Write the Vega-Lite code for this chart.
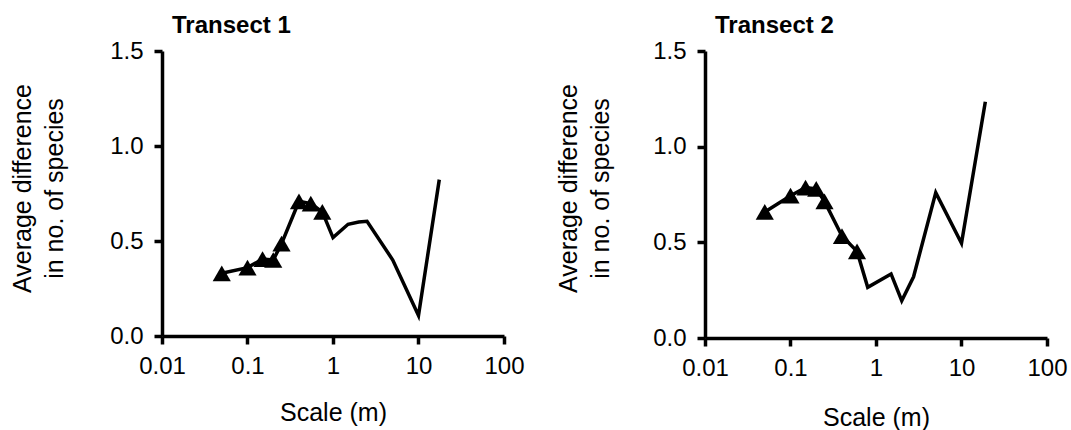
{
  "$schema": "https://vega.github.io/schema/vega-lite/v6.json",
  "background": "white",
  "padding": {"left": 10, "top": 14, "right": 0, "bottom": 0},
  "config": {
    "font": "Liberation Sans",
    "view": {"stroke": null},
    "axis": {
      "domainColor": "black", "domainWidth": 3.5, "tickColor": "black", "tickWidth": 3.5, "tickSize": 8,
      "labelColor": "black", "titleColor": "black", "labelFont": "Liberation Sans", "titleFont": "Liberation Sans",
      "labelFontSize": 24, "titleFontSize": 25, "titleFontWeight": "normal", "grid": false
    },
    "title": {"fontSize": 24, "fontWeight": "bold", "anchor": "start", "frame": "group", "color": "black", "font": "Liberation Sans"}
  },
  "datasets": {
    "t1": [
      {"scale": 0.05, "diff": 0.33, "tri": 1},
      {"scale": 0.1, "diff": 0.36, "tri": 1},
      {"scale": 0.15, "diff": 0.405, "tri": 1},
      {"scale": 0.2, "diff": 0.40, "tri": 1},
      {"scale": 0.25, "diff": 0.486, "tri": 1},
      {"scale": 0.4, "diff": 0.709, "tri": 1},
      {"scale": 0.55, "diff": 0.697, "tri": 1},
      {"scale": 0.75, "diff": 0.653, "tri": 1},
      {"scale": 1, "diff": 0.518, "tri": 0},
      {"scale": 1.5, "diff": 0.588, "tri": 0},
      {"scale": 2, "diff": 0.60, "tri": 0},
      {"scale": 2.5, "diff": 0.604, "tri": 0},
      {"scale": 5, "diff": 0.40, "tri": 0},
      {"scale": 10, "diff": 0.108, "tri": 0},
      {"scale": 17.5, "diff": 0.823, "tri": 0}
    ],
    "t2": [
      {"scale": 0.05, "diff": 0.659, "tri": 1},
      {"scale": 0.1, "diff": 0.744, "tri": 1},
      {"scale": 0.15, "diff": 0.786, "tri": 1},
      {"scale": 0.2, "diff": 0.779, "tri": 1},
      {"scale": 0.25, "diff": 0.714, "tri": 1},
      {"scale": 0.4, "diff": 0.533, "tri": 1},
      {"scale": 0.6, "diff": 0.453, "tri": 1},
      {"scale": 0.8, "diff": 0.265, "tri": 0},
      {"scale": 1.5, "diff": 0.335, "tri": 0},
      {"scale": 2, "diff": 0.195, "tri": 0},
      {"scale": 2.75, "diff": 0.32, "tri": 0},
      {"scale": 5, "diff": 0.76, "tri": 0},
      {"scale": 10, "diff": 0.495, "tri": 0},
      {"scale": 19, "diff": 1.235, "tri": 0}
    ]
  },
  "hconcat": [
    {
      "width": 342, "height": 285,
      "title": {"text": "Transect 1", "dx": 10, "offset": 1},
      "data": {"name": "t1"},
      "encoding": {
        "x": {"field": "scale", "type": "quantitative", "title": "Scale (m)",
          "scale": {"type": "log", "domain": [0.01, 100], "nice": false},
          "axis": {"values": [0.01, 0.1, 1, 10, 100], "format": "~g", "labelPadding": 10, "titlePadding": 22, "labelFlush": false}},
        "y": {"field": "diff", "type": "quantitative", "title": ["Average difference", "in no. of species"],
          "scale": {"domain": [0, 1.5], "nice": false},
          "axis": {"values": [0, 0.5, 1, 1.5], "format": ".1f", "labelPadding": 11, "titleX": -140, "titleY": 137, "titleAlign": "center", "titleBaseline": "middle", "titleLineHeight": 32}}
      },
      "layer": [
        {"mark": {"type": "line", "color": "black", "strokeWidth": 3.5}},
        {"transform": [{"filter": "datum.tri == 1"}],
         "mark": {"type": "point", "shape": "triangle-up", "filled": true, "color": "black", "opacity": 1, "size": 330}}
      ]
    },
    {
      "width": 342, "height": 287,
      "title": {"text": "Transect 2", "dx": 10, "offset": 1},
      "data": {"name": "t2"},
      "encoding": {
        "x": {"field": "scale", "type": "quantitative", "title": "Scale (m)",
          "scale": {"type": "log", "domain": [0.01, 100], "nice": false},
          "axis": {"values": [0.01, 0.1, 1, 10, 100], "format": "~g", "labelPadding": 10, "titlePadding": 25, "labelFlush": false}},
        "y": {"field": "diff", "type": "quantitative", "title": ["Average difference", "in no. of species"],
          "scale": {"domain": [0, 1.5], "nice": false},
          "axis": {"values": [0, 0.5, 1, 1.5], "format": ".1f", "labelPadding": 11, "titleX": -137, "titleY": 137, "titleAlign": "center", "titleBaseline": "middle", "titleLineHeight": 32}}
      },
      "layer": [
        {"mark": {"type": "line", "color": "black", "strokeWidth": 3.5}},
        {"transform": [{"filter": "datum.tri == 1"}],
         "mark": {"type": "point", "shape": "triangle-up", "filled": true, "color": "black", "opacity": 1, "size": 330}}
      ]
    }
  ],
  "spacing": 201,
  "bounds": "flush"
}
